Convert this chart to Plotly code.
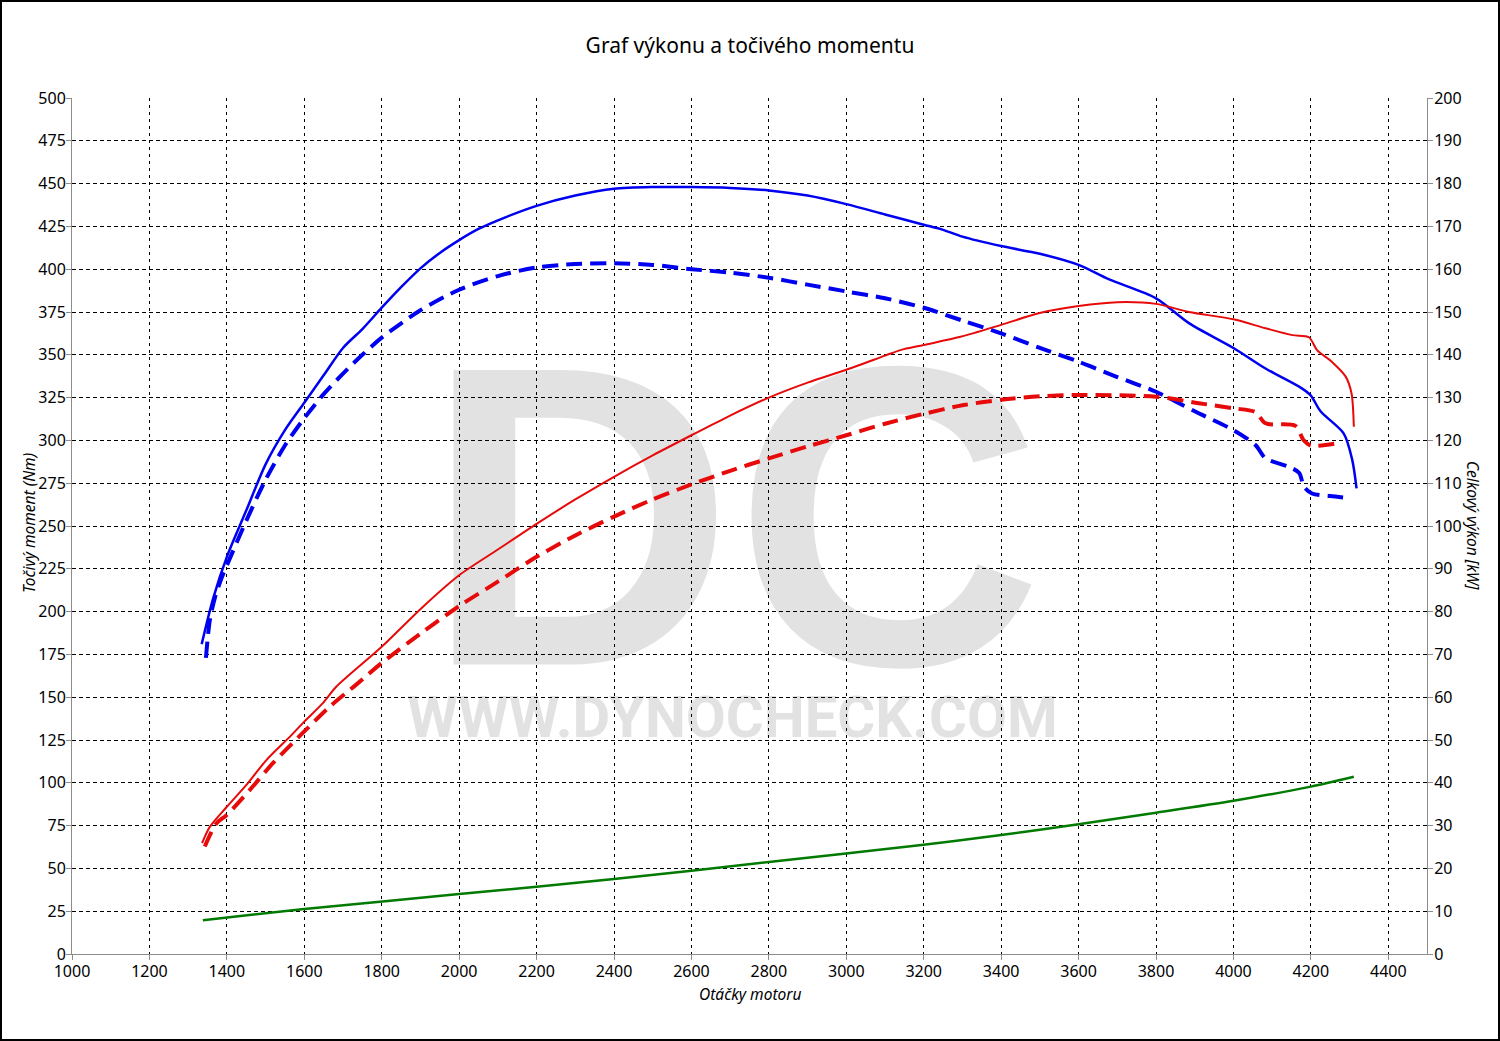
import plotly.graph_objects as go

# ---------------- data ----------------
rpm_torque_tuned = [1335, 1365, 1400, 1450, 1500, 1550, 1600, 1650, 1700, 1750, 1800, 1850, 1900, 1950, 2000,
                    2050, 2105, 2200, 2300, 2400, 2500, 2600, 2700, 2800, 2900, 3000, 3100, 3200, 3250, 3300,
                    3400, 3500, 3600, 3679, 3800, 3885, 4000, 4083, 4169, 4199, 4225, 4285, 4307, 4318]
torque_tuned = [181, 208, 232, 259, 286, 306, 322, 338, 354, 365, 377.5, 389.5, 400.5, 409.5, 417,
                423.5, 429, 437, 443, 447, 448, 448, 447.5, 446, 443, 438, 432, 426, 423, 419,
                413.5, 409, 402.5, 394, 383, 368.5, 354, 342, 331.5, 326.5, 317, 304, 288.5, 272]

rpm_torque_stock = [1346, 1356, 1369, 1387, 1400, 1450, 1500, 1550, 1600, 1650, 1700, 1750, 1800, 1900, 2000,
                    2100, 2200, 2300, 2400, 2500, 2600, 2700, 2800, 2900, 3000, 3100, 3200, 3300, 3400, 3500,
                    3600, 3700, 3800, 3900, 4000, 4057, 4083, 4143, 4170, 4182, 4203, 4250, 4290]
torque_stock = [173, 195, 208, 220, 227, 253, 277, 297, 313, 327, 339, 350, 360, 376, 388,
                396, 401, 403, 403.5, 402.5, 400, 398, 395, 391, 387, 383, 377.5, 370, 362.5, 354,
                346, 337, 328.4, 317, 306, 297.3, 289.5, 284.6, 281, 273, 269, 267.5, 266.5]

rpm_power_tuned = [1336, 1356, 1400, 1455, 1502, 1563, 1600, 1648, 1683, 1800, 1906, 2000, 2100, 2200, 2300,
                   2400, 2500, 2600, 2700, 2800, 2900, 3000, 3100, 3140, 3200, 3295, 3400, 3497, 3600, 3700,
                   3800, 3885, 4000, 4083, 4152, 4195, 4216, 4254, 4290, 4305, 4311]
power_tuned = [25.9, 29.7, 34.4, 40, 45.3, 50.8, 54.3, 58.6, 62.5, 71.8, 81.1, 88.5, 94.5, 100.5, 106.2,
               111.5, 116.5, 121.2, 125.8, 130, 133.5, 136.5, 139.8, 141.1, 142.3, 144.2, 147, 149.7, 151.4, 152.3,
               151.9, 150, 148.3, 146.2, 144.6, 144.1, 141.1, 138.4, 134.9, 131, 123.2]

rpm_power_stock = [1343, 1373, 1400, 1459, 1519, 1600, 1666, 1735, 1800, 1907, 2000, 2100, 2200, 2300, 2400,
                   2500, 2600, 2700, 2800, 2900, 3000, 3100, 3200, 3300, 3400, 3500, 3600, 3800, 3910, 4000,
                   4057, 4083, 4160, 4181, 4200, 4277]
power_stock = [25.1, 30.5, 32.5, 38.3, 44.6, 52, 57.8, 63, 68, 75.3, 81.3, 87, 92.8, 97.8, 102.2,
               106.2, 109.7, 112.9, 115.8, 118.6, 121.2, 123.9, 126.2, 128.2, 129.5, 130.3, 130.6, 130.2, 128.7, 127.5,
               126.6, 124, 123.4, 120.1, 118.8, 119.5]

rpm_loss = [1338, 1600, 2000, 2400, 2800, 3200, 3400, 3600, 3800, 4000, 4200, 4311]
power_loss = [7.9, 10.5, 14, 17.5, 21.5, 25.5, 27.8, 30.3, 33, 35.8, 39.1, 41.4]

x_ticks = list(range(1000, 4401, 200))
y_ticks = list(range(0, 501, 25))
y2_ticks = list(range(0, 201, 10))

title_text = "Graf výkonu a točivého momentu"
x_title = "Otáčky motoru"
y_title = "Točivý moment (Nm)"
y2_title = "Celkový výkon [kW]"

# ---------------- figure ----------------
BLUE = "#0000f0"
RED = "#e60a0a"
GREEN = "#007a00"
FONT = "Noto Sans"
SM = 0.8

fig = go.Figure()

fig.add_trace(go.Scatter(x=rpm_loss, y=power_loss, yaxis="y2", mode="lines",
                         line=dict(color=GREEN, width=2.5, shape="spline", smoothing=SM), hoverinfo="skip"))
fig.add_trace(go.Scatter(x=rpm_power_stock, y=power_stock, yaxis="y2", mode="lines",
                         line=dict(color=RED, width=4, dash="16px,8px", shape="spline", smoothing=SM),
                         hoverinfo="skip"))
fig.add_trace(go.Scatter(x=rpm_power_tuned, y=power_tuned, yaxis="y2", mode="lines",
                         line=dict(color=RED, width=2, shape="spline", smoothing=SM), hoverinfo="skip"))
fig.add_trace(go.Scatter(x=rpm_torque_stock, y=torque_stock, mode="lines",
                         line=dict(color=BLUE, width=4, dash="16px,8px", shape="spline", smoothing=SM),
                         hoverinfo="skip"))
fig.add_trace(go.Scatter(x=rpm_torque_tuned, y=torque_tuned, mode="lines",
                         line=dict(color=BLUE, width=2.5, shape="spline", smoothing=SM), hoverinfo="skip"))

L, R, T, B = 72, 73, 98, 87
W, H = 1500, 1041
PW, PH = W - L - R, H - T - B


def px(xp):
    return (xp - L) / PW


def py(yp):
    return (H - B - yp) / PH


axis_common = dict(
    showline=True, linecolor="#8c8c8c", linewidth=1,
    ticks="outside", ticklen=5, tickcolor="#8c8c8c", tickwidth=1,
    tickfont=dict(family=FONT, size=16, color="black"),
    zeroline=False,
)

fig.update_layout(
    width=W, height=H,
    margin=dict(l=L, r=R, t=T, b=B),
    paper_bgcolor="white",
    plot_bgcolor="rgba(0,0,0,0)",
    showlegend=False,
    title=dict(text=title_text, x=0.5, xanchor="center", y=1 - 46 / H, yanchor="middle",
               font=dict(family=FONT, size=21, color="black")),
    xaxis=dict(range=[1000, 4500], tickvals=x_ticks, showgrid=True, gridcolor="black", gridwidth=1,
               griddash="3px,4px", ticklabelstandoff=-2, **axis_common),
    yaxis=dict(range=[0, 500], tickvals=y_ticks, showgrid=True, gridcolor="black", gridwidth=1,
               griddash="4px,3px", ticklabelstandoff=-3, **axis_common),
    yaxis2=dict(range=[0, 200], tickvals=y2_ticks, overlaying="y", side="right", showgrid=False,
                ticklabelstandoff=-2, **axis_common),
)

# watermark (below grid)
fig.add_shape(type="rect", xref="paper", yref="paper", x0=px(449), x1=px(1019), y0=py(627), y1=py(324),
              line=dict(width=0), fillcolor="rgba(0,0,0,0)", layer="below",
              label=dict(text="<b>DC</b>", textposition="middle center",
                         font=dict(family="Liberation Sans", size=428, color="#e2e2e2")))
fig.add_shape(type="rect", xref="paper", yref="paper", x0=px(405), x1=px(1060), y0=py(733), y1=py(693),
              line=dict(width=0), fillcolor="rgba(0,0,0,0)", layer="below",
              label=dict(text="<b>WWW.DYNOCHECK.COM</b>", textposition="middle center",
                         font=dict(family="Roboto", size=58, color="#e2e2e2")))

# outer frame
fig.add_shape(type="rect", xref="paper", yref="paper", x0=px(1), x1=px(W - 1), y0=py(H - 1), y1=py(1),
              line=dict(color="black", width=2), fillcolor="rgba(0,0,0,0)", layer="above")

# axis titles
fig.add_annotation(text=f"<i>{x_title}</i>", xref="paper", yref="paper", x=px(750), y=py(994),
                   showarrow=False, xanchor="center", yanchor="middle",
                   font=dict(family=FONT, size=15.5, color="black"))
fig.add_annotation(text=f"<i>{y_title}</i>", xref="paper", yref="paper", x=px(29), y=py(523),
                   showarrow=False, xanchor="center", yanchor="middle", textangle=-90,
                   font=dict(family=FONT, size=15.5, color="black"))
fig.add_annotation(text=f"<i>{y2_title}</i>", xref="paper", yref="paper", x=px(1473), y=py(525),
                   showarrow=False, xanchor="center", yanchor="middle", textangle=90,
                   font=dict(family=FONT, size=15.5, color="black"))

fig.write_html("out.html", config={"displayModeBar": False},
               post_script="document.body.style.margin='0px';document.body.style.padding='0px';")
